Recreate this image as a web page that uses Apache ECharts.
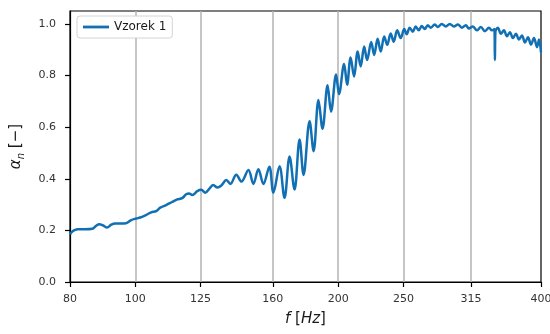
<!DOCTYPE html>
<html>
<head>
<meta charset="utf-8">
<script src="https://cdn.jsdelivr.net/npm/echarts/dist/echarts.min.js"></script>
<style>
html,body{margin:0;padding:0;background:#fff;overflow:hidden;}
#chart{width:550px;height:334px;}
</style>
</head>
<body>
<div id="chart"></div>
<script>
// Frequencies [Hz]
const freqs = [80.0, 80.6, 81.4, 82.2, 84.2, 86.3, 87.5, 88.4, 89.6, 90.8,
  92.1, 93.3, 94.9, 96.9, 98.6, 100.3, 101.7, 103.8, 105.6, 107.4,
  108.9, 111.1, 113.4, 115.4, 117.4, 119.0, 120.2, 121.5, 123.6, 125.3,
  127.0, 129.2, 130.5, 132.4, 134.2, 136.5, 138.4, 141.2, 143.7, 147.2,
  149.7, 152.3, 154.9, 158.1, 160.3, 163.7, 166.5, 169.4, 172.3, 175.3,
  177.7, 181.4, 183.9, 187.0, 189.6, 192.9, 195.2, 198.6, 200.6, 204.1,
  206.2, 208.7, 211.2, 213.8, 216.0, 218.6, 220.8, 223.9, 226.2, 228.9,
  231.3, 234.1, 236.5, 239.3, 241.8, 244.7, 247.7, 250.7, 252.8, 255.4,
  258.1, 260.7, 263.4, 266.1, 268.9, 271.7, 274.5, 278.3, 281.1, 285.0,
  288.9, 292.9, 297.0, 301.1, 305.2, 309.4, 312.6, 316.9, 321.3, 325.7,
  330.2, 334.8, 338.2, 341.1, 341.7, 342.3, 345.2, 348.8, 352.4, 356.1,
  359.7, 363.4, 367.2, 371.0, 374.8, 378.7, 382.6, 386.6, 390.5, 394.6,
  397.3, 400.0];
// Absorption coefficient alpha_n
const alphaVals = [0.185, 0.195, 0.202, 0.204, 0.204, 0.206, 0.218, 0.224, 0.219, 0.211,
  0.222, 0.227, 0.227, 0.228, 0.240, 0.246, 0.250, 0.260, 0.270, 0.275,
  0.288, 0.298, 0.310, 0.320, 0.325, 0.340, 0.343, 0.337, 0.352, 0.357,
  0.346, 0.366, 0.376, 0.366, 0.374, 0.395, 0.380, 0.416, 0.389, 0.434,
  0.380, 0.437, 0.380, 0.447, 0.346, 0.448, 0.326, 0.486, 0.358, 0.552,
  0.415, 0.623, 0.507, 0.705, 0.594, 0.762, 0.660, 0.804, 0.728, 0.845,
  0.764, 0.870, 0.796, 0.893, 0.835, 0.912, 0.860, 0.930, 0.880, 0.942,
  0.893, 0.951, 0.919, 0.963, 0.931, 0.975, 0.945, 0.980, 0.960, 0.985,
  0.970, 0.990, 0.975, 0.992, 0.980, 0.995, 0.985, 0.998, 0.988, 1.000,
  0.990, 1.000, 0.990, 0.998, 0.985, 0.995, 0.982, 0.990, 0.975, 0.988,
  0.972, 0.985, 0.975, 0.980, 0.860, 0.970, 0.985, 0.962, 0.975, 0.952,
  0.968, 0.945, 0.962, 0.940, 0.955, 0.928, 0.948, 0.920, 0.945, 0.910,
  0.940, 0.890];
const xTicks = [80, 100, 125, 160, 200, 250, 315, 400];
const yTicks = [0.0, 0.2, 0.4, 0.6, 0.8, 1.0];
const seriesName = 'Vzorek 1';

const FONT = 'DejaVu Sans';
const chart = echarts.init(document.getElementById('chart'), null, {renderer: 'canvas', width: 550, height: 334});
const option = {
  animation: false,
  backgroundColor: '#ffffff',
  grid: {left: 70, right: 9, top: 11, bottom: 52, containLabel: false, outerBoundsMode: 'none',
    show: true, borderColor: '#000', borderWidth: 1.2, backgroundColor: 'transparent'},
  legend: {
    left: 77, top: 16,
    data: [seriesName],
    icon: 'rect',
    itemWidth: 26, itemHeight: 2.8,
    padding: [5, 6, 5, 6],
    borderColor: '#d4d4d4', borderWidth: 1, borderRadius: 3,
    backgroundColor: '#fff',
    textStyle: {fontFamily: FONT, fontSize: 12, color: '#1a1a1a'}
  },
  xAxis: {
    type: 'log', logBase: 10, min: 80, max: 400,
    name: '{i|f}{r| [}{i|Hz}{r|]}',
    nameLocation: 'middle', nameGap: 30,
    nameTextStyle: {
      fontFamily: FONT, fontSize: 15, color: '#1a1a1a',
      rich: {
        i: {fontFamily: FONT, fontSize: 15, fontStyle: 'italic', color: '#1a1a1a'},
        r: {fontFamily: FONT, fontSize: 15, color: '#1a1a1a'}
      }
    },
    axisLine: {show: true, lineStyle: {color: '#000', width: 1.2}},
    axisTick: {show: true, customValues: xTicks, length: 5, lineStyle: {color: '#000', width: 1.2}},
    axisLabel: {customValues: xTicks, formatter: v => String(Math.round(v)), margin: 12, fontFamily: FONT, fontSize: 11, color: '#333'},
    splitLine: {show: true, showMinLine: false, showMaxLine: false, lineStyle: {color: '#b3b3b3', width: 1.5}}
  },
  yAxis: {
    type: 'value', min: 0, max: 1.05,
    name: '{i|α}{s|n}{r| [−]}',
    nameLocation: 'middle', nameGap: 42, nameRotate: 90,
    nameTextStyle: {
      fontFamily: FONT, fontSize: 15, color: '#1a1a1a',
      rich: {
        i: {fontFamily: FONT, fontSize: 15, fontStyle: 'italic', color: '#1a1a1a', lineHeight: 22, verticalAlign: 'middle'},
        s: {fontFamily: FONT, fontSize: 10, fontStyle: 'italic', color: '#1a1a1a', lineHeight: 22, verticalAlign: 'bottom', padding: [0, 0, 1, 0]},
        r: {fontFamily: FONT, fontSize: 15, color: '#1a1a1a', lineHeight: 22, verticalAlign: 'middle'}
      }
    },
    axisLine: {show: true, lineStyle: {color: '#000', width: 1.2}},
    axisTick: {show: true, customValues: yTicks, length: 5, lineStyle: {color: '#000', width: 1.2}},
    axisLabel: {customValues: yTicks, formatter: v => Number(v).toFixed(1), margin: 14, fontFamily: FONT, fontSize: 11, color: '#333'},
    splitLine: {show: false}
  },
  series: [{
    name: seriesName,
    type: 'line',
    data: freqs.map((f, i) => [f, alphaVals[i]]),
    showSymbol: false,
    symbol: 'none',
    smooth: 0.35,
    lineStyle: {color: '#1170b3', width: 2.5},
    itemStyle: {color: '#1170b3'},
    z: 3
  }]
};
chart.setOption(option);
</script>
</body>
</html>
